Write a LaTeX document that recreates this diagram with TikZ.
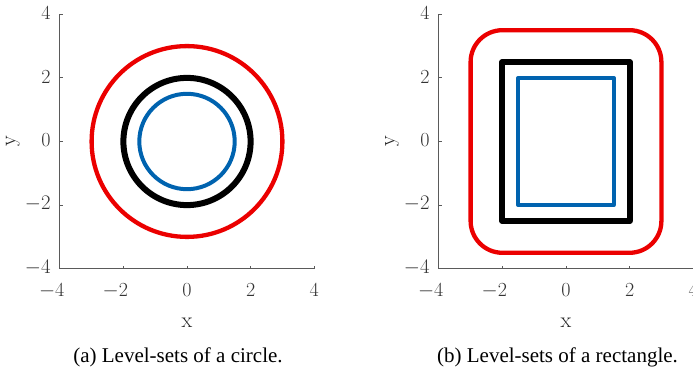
\documentclass[tikz,border=0pt]{standalone}
\usepackage{fontspec}
\newfontfamily\capfont{Liberation Serif}
\definecolor{lsred}{RGB}{235,0,0}
\definecolor{lsblue}{RGB}{0,99,175}
\definecolor{axgray}{RGB}{90,90,90}
\begin{document}
\begin{tikzpicture}[x=1pt,y=1pt,
  axis/.style={draw=axgray, line width=0.8pt},
  ticklbl/.style={font=\fontsize{20}{24}\selectfont, text=black!80, inner sep=0pt},
  axlbl/.style={font=\fontsize{22}{26}\selectfont, text=black!85, inner sep=0pt},
  caption/.style={font=\capfont\fontsize{21}{25}\selectfont, inner sep=0pt, anchor=base},
  redline/.style={draw=lsred, line width=4.3pt, line join=round},
  blackline/.style={draw=black, line width=6pt, line join=round},
  blueline/.style={draw=lsblue, line width=4pt, line join=round}]
\useasboundingbox (0,0) rectangle (693,371);
\clip (0,0) rectangle (693,371);
% ---------- left plot ----------
\begin{scope}[shift={(187pt,229.5pt)}, x=31.8pt, y=31.8pt]
  \draw[axis] (-4,4) -- (-4,-4) -- (4,-4);
  \foreach \v/\t in {-4/\llap{$-$}4,-2/\llap{$-$}2,0/0,2/2,4/4} {
    \draw[axis] (-4,\v) -- ++(3pt,0);
    \draw[axis] (\v,-4) -- ++(0,3pt);
    \node[ticklbl, anchor=base] (ax\v) at ([yshift=-28pt]\v,-4) {\t};
  }
  \foreach \v/\t in {-4/$-4$,-2/$-2$,0/0,2/2,4/4} {
    \node[ticklbl, anchor=east] (ay\v) at ([xshift=-9pt,yshift=1pt]-4,\v) {\t};
  }
  \node[axlbl, anchor=base] (xl) at ([yshift=-186.2pt]0,0) {x};
  \node[axlbl, rotate=90] (yl) at ([xshift=-174pt]0,0) {y};
  \draw[redline] (0,0) circle (3);
  \draw[blackline] (0,0) circle (2);
  \draw[blueline] (0,0) circle (1.5);
\end{scope}
\node[caption] (capa) at (178,8) {(a) Level-sets of a circle.};
% ---------- right plot ----------
\begin{scope}[shift={(566pt,229.5pt)}, x=31.8pt, y=31.8pt]
  \draw[axis] (-4,4) -- (-4,-4) -- (4,-4);
  \foreach \v/\t in {-4/\llap{$-$}4,-2/\llap{$-$}2,0/0,2/2,4/4} {
    \draw[axis] (-4,\v) -- ++(3pt,0);
    \draw[axis] (\v,-4) -- ++(0,3pt);
    \node[ticklbl, anchor=base] (bx\v) at ([yshift=-28pt]\v,-4) {\t};
  }
  \foreach \v/\t in {-4/$-4$,-2/$-2$,0/0,2/2,4/4} {
    \node[ticklbl, anchor=east] (by\v) at ([xshift=-9pt,yshift=1pt]-4,\v) {\t};
  }
  \node[axlbl, anchor=base] (xr) at ([yshift=-186.2pt]0,0) {x};
  \node[axlbl, rotate=90] (yr) at ([xshift=-174pt]0,0) {y};
  \draw[redline, rounded corners=31.8pt] (-3,-3.5) rectangle (3,3.5);
  \draw[blackline] (-2,-2.5) rectangle (2,2.5);
  \draw[blueline] (-1.5,-2) rectangle (1.5,2);
\end{scope}
\node[caption] (capb) at (557.5,8) {(b) Level-sets of a rectangle.};
\end{tikzpicture}
\end{document}
